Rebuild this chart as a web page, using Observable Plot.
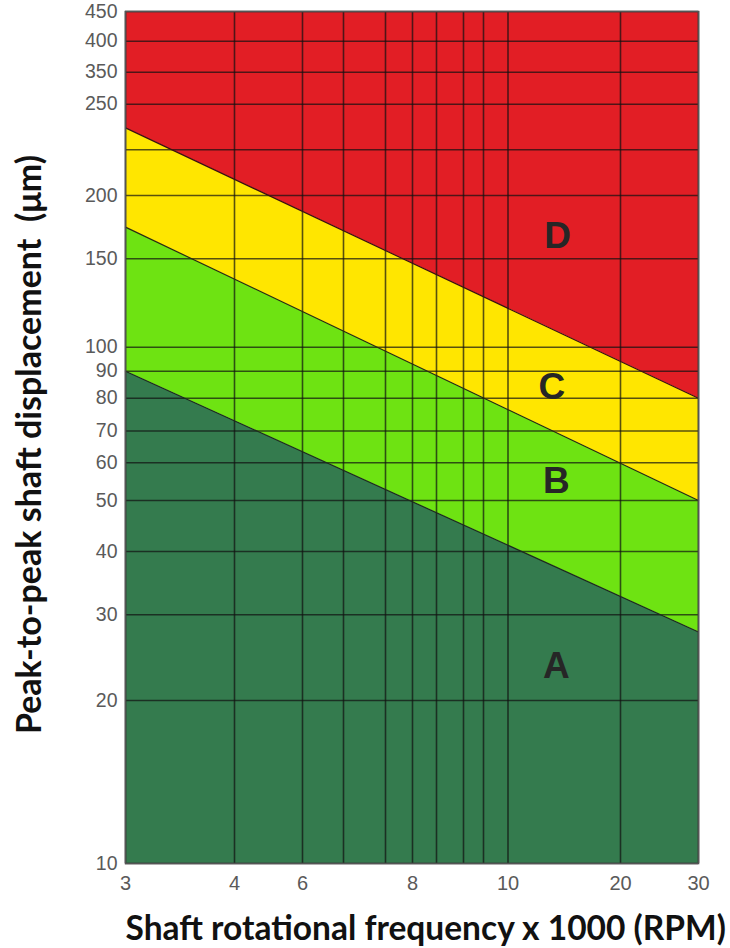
<!DOCTYPE html>
<html>
<head>
<meta charset="utf-8">
<script src="https://cdn.jsdelivr.net/npm/d3@7"></script>
<script src="https://cdn.jsdelivr.net/npm/@observablehq/plot@0.6"></script>
<style>
  html, body { margin: 0; padding: 0; background: #ffffff; }
  #chart { width: 730px; height: 948px; }
</style>
</head>
<body>
<div id="chart"></div>
<script>
// ---- data ----
const xTicks = [3, 4, 6, 8, 10, 20, 30];
const xGrid = [3, 4, 6, 6.75, 7.5, 8, 8.5, 9, 9.5, 10, 20, 30];
const yTicks = [10, 20, 30, 40, 50, 60, 70, 80, 90, 100, 150, 200, 250, 350, 400, 450];
const yGrid = [10, 20, 30, 40, 50, 60, 70, 80, 90, 100, 150, 200, 225, 250, 350, 400, 450];
const xEnds = [3, 30];
const boundAB = [90, 28];
const boundBC = [175, 50];
const boundCD = [237, 80];
const yMin = 10, yMax = 450;
const zoneNames = ["A", "B", "C", "D"];
const zoneLabelX = [14.3, 14.3, 13.9, 14.4];
const zoneLabelY = [24, 55, 84, 168];
const xTitle = "Shaft rotational frequency x 1000 (RPM)";
const yTitle = "Peak-to-peak shaft displacement  (\u03bcm)";

// ---- tables ----
const zoneRows = (lo, hi) => xEnds.map((x, i) => ({x, y1: lo[i], y2: hi[i]}));
const zoneA = zoneRows(xEnds.map(() => yMin), boundAB);
const zoneB = zoneRows(boundAB, boundBC);
const zoneC = zoneRows(boundBC, boundCD);
const zoneD = zoneRows(boundCD, xEnds.map(() => yMax));
const line = (b) => xEnds.map((x, i) => ({x, y: b[i]}));
const labels = zoneNames.map((n, i) => ({n, x: zoneLabelX[i], y: zoneLabelY[i]}));

const chart = Plot.plot({
  width: 730,
  height: 948,
  marginLeft: 125,
  marginRight: 32,
  marginTop: 11,
  marginBottom: 85,
  style: {fontFamily: "'Liberation Sans', Arial, sans-serif", background: "#ffffff", overflow: "visible"},
  x: {
    type: "linear",
    domain: xGrid,
    range: [125, 234, 302, 343, 385, 412, 436, 463, 483, 507.5, 620, 698]
  },
  y: {
    type: "linear",
    domain: yGrid,
    range: [863, 700, 614.3, 551, 500, 462.3, 430.5, 397.7, 370.7, 346.7, 258.3, 195, 149.3, 103.7, 71.7, 40.7, 11]
  },
  marks: [
    Plot.areaY(zoneA, {x: "x", y1: "y1", y2: "y2", fill: "#347b4e"}),
    Plot.areaY(zoneB, {x: "x", y1: "y1", y2: "y2", fill: "#6ee312"}),
    Plot.areaY(zoneC, {x: "x", y1: "y1", y2: "y2", fill: "#ffe600"}),
    Plot.areaY(zoneD, {x: "x", y1: "y1", y2: "y2", fill: "#e21e25"}),
    Plot.ruleX(xGrid, {stroke: "#111", strokeOpacity: 0.7, strokeWidth: 1.6}),
    Plot.ruleY(yGrid, {stroke: "#111", strokeOpacity: 0.7, strokeWidth: 1.6}),
    Plot.lineY(line(boundAB), {x: "x", y: "y", stroke: "#1d2a1d", strokeWidth: 1.2}),
    Plot.lineY(line(boundBC), {x: "x", y: "y", stroke: "#2a2a10", strokeWidth: 1.2}),
    Plot.lineY(line(boundCD), {x: "x", y: "y", stroke: "#3a1010", strokeWidth: 1.2}),
    Plot.frame({stroke: "#555", strokeWidth: 1.6}),
    Plot.text(labels, {x: "x", y: "y", text: "n", fontSize: 37, fontWeight: "bold", fill: "#262626",
      fontFamily: "'Liberation Sans', Arial, sans-serif"}),
    Plot.axisX(xTicks, {tickSize: 0, tickPadding: 12, fontSize: 20, color: "#5a5a5a", label: null}),
    Plot.axisY(yTicks, {tickSize: 0, tickPadding: 8, fontSize: 19.5, color: "#5a5a5a", label: null}),
    Plot.text([xTitle], {frameAnchor: "bottom-left", textAnchor: "start", lineAnchor: "bottom", dy: 76,
      fontSize: 33.5, fontWeight: "bold", fill: "#111", fontFamily: "Lato, 'Open Sans', sans-serif"}),
    Plot.text([yTitle], {frameAnchor: "left", textAnchor: "middle", lineAnchor: "bottom", rotate: -90,
      dx: -85, dy: 7, fontSize: 34, fontWeight: "bold", fill: "#111", fontFamily: "Lato, 'Open Sans', sans-serif"})
  ]
});
document.getElementById("chart").appendChild(chart);
</script>
</body>
</html>
